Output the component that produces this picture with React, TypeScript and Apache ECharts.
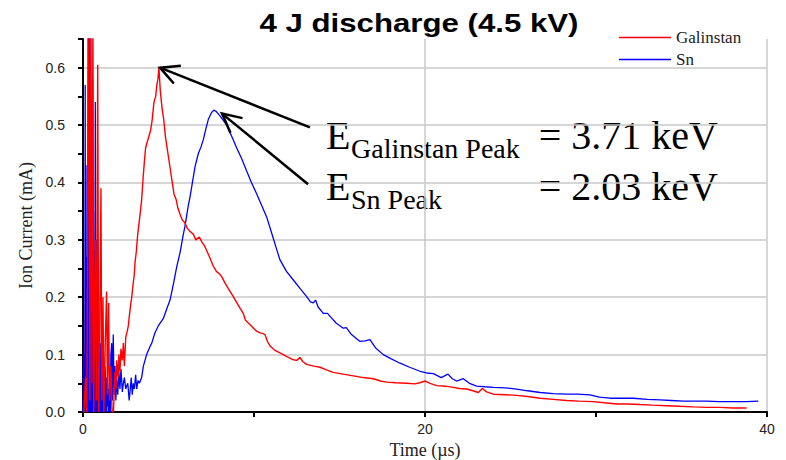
import React, { useEffect, useRef } from "react";
import * as echarts from "echarts";

const titleText = "4 J discharge (4.5 kV)";
const xName = "Time (µs)";
const yName = "Ion Current (mA)";
const seriesNames = ["Galinstan", "Sn"];
const seriesColors = ["#ff0000", "#0000ff"];

const tRed = [0.0, 0.05, 0.15, 0.22, 0.35, 0.4, 0.47, 0.52, 0.58, 0.63, 0.72, 0.78, 0.86, 0.92, 0.98, 1.05, 1.1, 1.17, 1.22, 1.3, 1.38, 1.43, 1.5, 1.55, 1.62, 1.7, 1.78, 1.87, 1.93, 1.97, 2.05, 2.1, 2.16, 2.22, 2.3, 2.36, 2.42, 2.5, 2.58, 2.65, 2.72, 2.8, 2.85, 2.92, 3.0, 3.04, 3.12, 3.2, 3.28, 3.36, 3.43, 3.52, 3.6, 3.66, 3.75, 3.85, 3.95, 4.05, 4.15, 4.25, 4.32, 4.38, 4.44, 4.52, 4.62, 4.72, 4.82, 4.92, 5.02, 5.12, 5.22, 5.32, 5.45, 5.55, 5.67, 5.8, 5.95, 6.1, 6.25, 6.45, 6.6, 6.8, 6.94, 7.1, 7.25, 7.4, 7.62, 7.8, 8.0, 8.11, 8.3, 8.5, 8.79, 9.0, 9.2, 9.37, 9.5, 9.67, 9.85, 10.0, 10.2, 10.35, 10.5, 10.64, 10.8, 10.94, 11.2, 11.52, 11.9, 12.3, 12.5, 12.69, 12.85, 13.08, 13.5, 13.86, 14.2, 14.64, 15.2, 15.81, 16.4, 16.98, 17.4, 17.76, 18.3, 18.93, 19.4, 19.7, 20.0, 20.3, 20.68, 21.2, 21.66, 22.0, 22.44, 22.8, 23.12, 23.35, 23.6, 24.0, 24.7, 25.36, 26.0, 26.73, 27.5, 28.29, 29.0, 29.84, 30.5, 31.21, 31.9, 32.57, 33.3, 34.13, 34.9, 35.69, 36.5, 37.25, 38.0, 38.81];
const vRed = [0.0, 0.0, 0.06, 0.0, 0.7, 0.02, 0.7, 0.05, 0.7, 0.0, 0.3, 0.02, 0.605, 0.0, 0.15, 0.39, 0.02, 0.2, 0.0, 0.12, 0.21, 0.03, 0.19, 0.02, 0.08, 0.0, 0.0, 0.07, 0.04, 0.09, 0.06, 0.1, 0.07, 0.11, 0.09, 0.12, 0.08, 0.13, 0.14, 0.15, 0.17, 0.19, 0.2, 0.22, 0.24, 0.26, 0.28, 0.31, 0.33, 0.35, 0.37, 0.41, 0.44, 0.46, 0.47, 0.48, 0.49, 0.51, 0.54, 0.55, 0.57, 0.58, 0.6, 0.56, 0.53, 0.51, 0.48, 0.46, 0.44, 0.42, 0.4, 0.38, 0.37, 0.355, 0.345, 0.335, 0.33, 0.32, 0.315, 0.31, 0.3, 0.305, 0.297, 0.29, 0.28, 0.27, 0.254, 0.245, 0.24, 0.236, 0.225, 0.215, 0.201, 0.19, 0.18, 0.172, 0.16, 0.155, 0.15, 0.145, 0.14, 0.138, 0.137, 0.135, 0.122, 0.115, 0.108, 0.103, 0.097, 0.091, 0.09, 0.095, 0.088, 0.083, 0.08, 0.078, 0.074, 0.069, 0.066, 0.063, 0.06, 0.058, 0.054, 0.052, 0.051, 0.05, 0.049, 0.051, 0.054, 0.05, 0.046, 0.045, 0.043, 0.041, 0.04, 0.037, 0.034, 0.041, 0.035, 0.031, 0.03, 0.029, 0.027, 0.024, 0.022, 0.02, 0.019, 0.018, 0.016, 0.014, 0.014, 0.013, 0.012, 0.011, 0.01, 0.009, 0.008, 0.008, 0.007, 0.007];

const tBlue = [0.0, 0.03, 0.05, 0.08, 0.1, 0.13, 0.15, 0.175, 0.2, 0.23, 0.26, 0.3, 0.32, 0.35, 0.37, 0.39, 0.41, 0.43, 0.47, 0.49, 0.51, 0.53, 0.56, 0.58, 0.61, 0.63, 0.66, 0.68, 0.72, 0.74, 0.77, 0.8, 0.83, 0.85, 0.87, 0.89, 0.9, 0.92, 0.95, 0.97, 0.99, 1.01, 1.03, 1.05, 1.07, 1.09, 1.11, 1.13, 1.15, 1.17, 1.19, 1.21, 1.24, 1.26, 1.28, 1.3, 1.32, 1.35, 1.37, 1.39, 1.42, 1.45, 1.48, 1.51, 1.54, 1.57, 1.6, 1.63, 1.68, 1.72, 1.77, 1.82, 1.87, 1.92, 1.97, 2.03, 2.1, 2.16, 2.22, 2.3, 2.36, 2.42, 2.5, 2.55, 2.62, 2.7, 2.75, 2.82, 2.88, 2.94, 3.0, 3.08, 3.14, 3.22, 3.3, 3.43, 3.53, 3.72, 3.92, 4.02, 4.21, 4.4, 4.7, 4.9, 5.09, 5.3, 5.48, 5.67, 5.87, 5.96, 6.16, 6.26, 6.4, 6.55, 6.74, 6.9, 7.04, 7.2, 7.33, 7.52, 7.65, 7.78, 7.9, 8.01, 8.2, 8.4, 8.7, 8.99, 9.3, 9.57, 9.85, 10.16, 10.45, 10.74, 11.0, 11.33, 11.52, 11.9, 12.3, 12.7, 13.08, 13.3, 13.47, 13.6, 13.75, 14.05, 14.3, 14.5, 14.8, 15.22, 15.4, 15.7, 16.2, 16.5, 16.78, 17.1, 17.56, 18.0, 18.54, 19.1, 19.71, 20.1, 20.49, 20.95, 21.34, 21.6, 21.85, 22.24, 22.6, 23.02, 23.5, 24.0, 24.7, 25.36, 26.0, 26.73, 27.5, 28.29, 28.9, 29.65, 30.2, 30.82, 31.5, 32.18, 33.0, 33.74, 34.4, 35.1, 35.8, 36.47, 37.2, 38.03, 38.8, 39.49];
const vBlue = [0.0, 0.1, 0.0, 0.05, 0.0, 0.57, 0.0, 0.43, 0.0, 0.27, 0.0, 0.7, 0.0, 0.7, 0.0, 0.65, 0.7, 0.0, 0.37, 0.0, 0.2, 0.0, 0.58, 0.0, 0.35, 0.0, 0.28, 0.0, 0.54, 0.0, 0.3, 0.0, 0.25, 0.0, 0.3, 0.02, 0.2, 0.0, 0.1, 0.0, 0.12, 0.0, 0.08, 0.0, 0.11, 0.16, 0.0, 0.07, 0.0, 0.1, 0.09, 0.0, 0.06, 0.0, 0.08, 0.07, 0.0, 0.05, 0.0, 0.06, 0.01, 0.05, 0.0, 0.04, 0.0, 0.03, 0.0, 0.1, 0.12, 0.02, 0.135, 0.03, 0.08, 0.02, 0.06, 0.03, 0.07, 0.04, 0.075, 0.035, 0.05, 0.06, 0.04, 0.045, 0.05, 0.02, 0.035, 0.06, 0.03, 0.05, 0.04, 0.065, 0.04, 0.055, 0.05, 0.06, 0.08, 0.1, 0.114, 0.12, 0.138, 0.15, 0.163, 0.18, 0.195, 0.225, 0.253, 0.277, 0.31, 0.323, 0.36, 0.375, 0.4, 0.427, 0.45, 0.462, 0.475, 0.495, 0.51, 0.522, 0.526, 0.524, 0.52, 0.516, 0.508, 0.5, 0.48, 0.46, 0.44, 0.42, 0.4, 0.38, 0.36, 0.34, 0.315, 0.283, 0.265, 0.245, 0.23, 0.215, 0.201, 0.192, 0.19, 0.195, 0.183, 0.172, 0.172, 0.165, 0.155, 0.146, 0.147, 0.135, 0.123, 0.124, 0.126, 0.112, 0.1, 0.093, 0.085, 0.078, 0.071, 0.068, 0.067, 0.06, 0.066, 0.058, 0.054, 0.058, 0.05, 0.045, 0.044, 0.043, 0.042, 0.04, 0.037, 0.034, 0.032, 0.031, 0.031, 0.03, 0.026, 0.024, 0.024, 0.024, 0.022, 0.021, 0.02, 0.019, 0.019, 0.019, 0.018, 0.018, 0.018, 0.019];

// arrows: [tailTime, tailCurrent, headTime, headCurrent]
const arrowData = [
  [13.27, 0.496, 4.5, 0.6],
  [13.16, 0.397, 8.13, 0.52],
];

const annotationMain = ["E", "E"];
const annotationSub = ["Galinstan Peak", "Sn Peak"];
const annotationValue = ["= 3.71 keV", "= 2.03 keV"];

export default function App() {
  const ref = useRef<HTMLDivElement>(null);
  useEffect(() => {
    document.body.style.margin = "0";
    const chart = echarts.init(ref.current!, null, { renderer: "svg" });
    const serif = "Liberation Serif";
    const sans = "Liberation Sans";
    const red = tRed.map((t, i) => [t, vRed[i]]);
    const blue = tBlue.map((t, i) => [t, vBlue[i]]);
    const textLines = [135.5, 186.5];
    const graphics: any[] = [
      {
        type: "text",
        x: 419,
        y: 23,
        scaleX: 1.2,
        style: {
          text: titleText,
          fontFamily: sans,
          fontWeight: "bold",
          fontSize: 26,
          fill: "#000",
          align: "center",
          verticalAlign: "middle",
        },
      },
    ];
    textLines.forEach((y, i) => {
      graphics.push({
        type: "text",
        x: 326,
        y,
        style: { text: annotationMain[i], fontFamily: serif, fontSize: 40, fill: "#000", align: "left", verticalAlign: "middle" },
      });
      graphics.push({
        type: "text",
        x: 351,
        y: y + 13,
        style: { text: annotationSub[i], fontFamily: serif, fontSize: 28, fill: "#000", align: "left", verticalAlign: "middle" },
      });
      graphics.push({
        type: "text",
        x: 718,
        y,
        style: { text: annotationValue[i], fontFamily: serif, fontSize: 40, fill: "#000", align: "right", verticalAlign: "middle" },
      });
    });

    chart.setOption({
      animation: false,
      backgroundColor: "#fff",
      grid: { left: 83, right: 19, top: 39, bottom: 48, outerBoundsMode: "none", containLabel: false },
      legend: {
        data: seriesNames,
        orient: "vertical",
        left: 619,
        top: 29,
        padding: 0,
        icon: "rect",
        itemWidth: 52,
        itemHeight: 1.5,
        itemGap: 5,
        textStyle: { fontFamily: serif, fontSize: 17, color: "#222", padding: [0, 0, 0, 0] },
      },
      xAxis: [
        {
          type: "value",
          min: 0,
          max: 40,
          interval: 10,
          name: xName,
          nameLocation: "middle",
          nameGap: 23,
          nameTextStyle: { fontFamily: serif, fontSize: 18, color: "#222" },
          axisLine: { lineStyle: { color: "#000", width: 2 } },
          axisTick: { length: 5, lineStyle: { color: "#000", width: 2 } },
          axisLabel: {
            margin: 10,
            fontFamily: sans,
            fontSize: 14,
            color: "#222",
            formatter: (v: number) => (v % 20 === 0 ? String(v) : ""),
          },
          splitLine: { show: false },
        },
        {
          type: "value",
          min: 0,
          max: 40,
          interval: 20,
          position: "top",
          axisLine: { show: false },
          axisTick: { show: false },
          axisLabel: { show: false },
          splitLine: { show: true, showMinLine: false, lineStyle: { color: "#c8c8c8", width: 1.5 } },
        },
      ],
      yAxis: [
        {
          type: "value",
          min: 0,
          max: 0.65,
          interval: 0.05,
          name: yName,
          nameLocation: "middle",
          nameGap: 38,
          nameTextStyle: { fontFamily: serif, fontSize: 18, color: "#222" },
          axisLine: { show: true, lineStyle: { color: "#000", width: 2 } },
          axisTick: { show: true, length: 5, lineStyle: { color: "#000", width: 2 } },
          axisLabel: {
            margin: 18,
            fontFamily: sans,
            fontSize: 14,
            color: "#222",
            formatter: (v: number) => {
              const r = Math.round(v * 10);
              return Math.abs(v * 10 - r) < 1e-6 ? (r / 10).toFixed(1) : "";
            },
          },
          splitLine: { show: false },
        },
        {
          type: "value",
          min: 0,
          max: 0.65,
          interval: 0.1,
          position: "right",
          axisLine: { show: false },
          axisTick: { show: false },
          axisLabel: { show: false },
          splitLine: { show: true, showMinLine: false, showMaxLine: false, lineStyle: { color: "#c8c8c8", width: 1.5 } },
        },
      ],
      series: [
        {
          name: seriesNames[0],
          type: "line",
          data: red,
          xAxisIndex: 0,
          yAxisIndex: 0,
          symbol: "none",
          clip: true,
          lineStyle: { color: seriesColors[0], width: 1.4 },
          itemStyle: { color: seriesColors[0] },
          z: 3,
        },
        {
          name: seriesNames[1],
          type: "line",
          data: blue,
          xAxisIndex: 0,
          yAxisIndex: 0,
          symbol: "none",
          clip: true,
          lineStyle: { color: seriesColors[1], width: 1.3 },
          itemStyle: { color: seriesColors[1] },
          z: 2,
        },
        {
          type: "custom",
          xAxisIndex: 0,
          yAxisIndex: 0,
          clip: false,
          silent: true,
          encode: { x: [0, 2], y: [1, 3] },
          data: arrowData,
          z: 5,
          renderItem: (params: any, api: any) => {
            const p0 = api.coord([api.value(0), api.value(1)]);
            const p1 = api.coord([api.value(2), api.value(3)]);
            const ang = Math.atan2(p0[1] - p1[1], p0[0] - p1[0]);
            const L = 21;
            const a = 0.47;
            const h1 = [p1[0] + L * Math.cos(ang + a), p1[1] + L * Math.sin(ang + a)];
            const h2 = [p1[0] + L * Math.cos(ang - a), p1[1] + L * Math.sin(ang - a)];
            return {
              type: "group",
              children: [
                { type: "line", shape: { x1: p0[0], y1: p0[1], x2: p1[0], y2: p1[1] }, style: { stroke: "#000", lineWidth: 2.5 } },
                { type: "polyline", shape: { points: [h1, p1, h2] }, style: { stroke: "#000", fill: "none", lineWidth: 2.5 } },
              ],
            };
          },
        },
      ],
      graphic: graphics,
    });
    return () => chart.dispose();
  }, []);
  return <div ref={ref} style={{ position: "absolute", left: 0, top: 0, width: 786, height: 460 }} />;
}
